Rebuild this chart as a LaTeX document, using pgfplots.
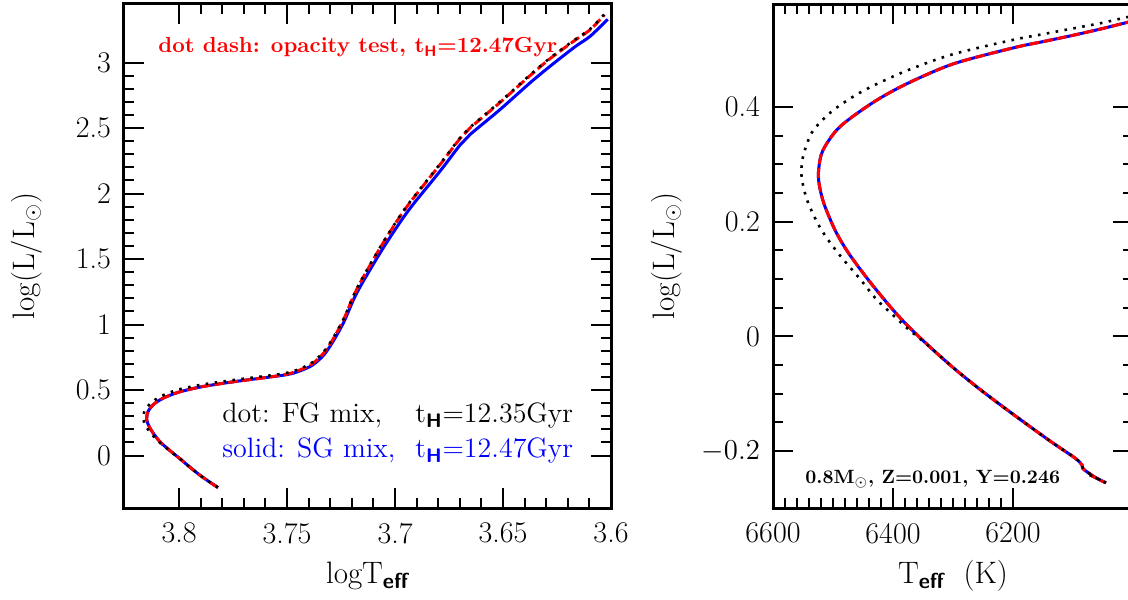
\documentclass[border=0pt]{standalone}
\usepackage{amsmath}
\usepackage{pgfplots}
\pgfplotsset{compat=1.18}
\definecolor{pred}{RGB}{255,0,0}
\definecolor{pblue}{RGB}{0,0,255}
\pgfplotstableread{
x y
3.7820 -0.244
3.7860 -0.200
3.7903 -0.150
3.7950 -0.088
3.7995 -0.025
3.8040 0.035
3.8085 0.100
3.8115 0.160
3.8138 0.220
3.8150 0.275
3.8145 0.330
3.8122 0.385
3.8075 0.437
3.8000 0.485
3.7890 0.527
3.7733 0.567
3.7579 0.600
3.7480 0.625
3.7393 0.680
3.7340 0.750
3.7301 0.834
3.7239 1.013
3.7177 1.242
3.7069 1.547
3.6977 1.780
3.6915 1.920
3.6792 2.170
3.6699 2.370
3.6653 2.450
3.6514 2.641
3.6375 2.845
3.6282 2.972
3.6167 3.120
3.6097 3.200
3.6015 3.330
}\blueL
\pgfplotstableread{
x y
3.7820 -0.244
3.7860 -0.200
3.7903 -0.150
3.7950 -0.088
3.7995 -0.025
3.8040 0.035
3.8085 0.100
3.8115 0.160
3.8138 0.220
3.8150 0.275
3.8145 0.330
3.8122 0.385
3.8075 0.437
3.8000 0.485
3.7890 0.527
3.7733 0.567
3.7579 0.600
3.7480 0.630
3.7393 0.690
3.7340 0.765
3.7301 0.850
3.7239 1.035
3.7177 1.270
3.7069 1.585
3.6977 1.825
3.6915 1.965
3.6792 2.220
3.6699 2.420
3.6653 2.500
3.6514 2.695
3.6375 2.900
3.6282 3.030
3.6167 3.170
3.6097 3.250
3.6030 3.365
}\redL
\pgfplotstableread{
x y
3.7820 -0.244
3.7860 -0.200
3.7903 -0.150
3.7950 -0.088
3.7995 -0.025
3.8042 0.035
3.8090 0.100
3.8125 0.160
3.8152 0.220
3.8166 0.280
3.8160 0.340
3.8135 0.395
3.8085 0.452
3.8005 0.503
3.7890 0.543
3.7733 0.580
3.7579 0.612
3.7480 0.640
3.7393 0.700
3.7340 0.775
3.7301 0.860
3.7239 1.040
3.7177 1.275
3.7069 1.590
3.6977 1.830
3.6915 1.970
3.6792 2.225
3.6699 2.425
3.6653 2.505
3.6514 2.700
3.6375 2.905
3.6282 3.035
3.6167 3.175
3.6097 3.255
3.6030 3.370
}\blackL
\pgfplotstableread{
x y
6071.7 -0.2417
6045 -0.2556
6063 -0.2460
6083 -0.2312
6085 -0.2242
6097 -0.2120
6139 -0.182
6201 -0.135
6252 -0.095
6297 -0.057
6338 -0.019
6376 0.019
6404 0.051
6440 0.097
6474 0.145
6496 0.184
6515 0.231
6523 0.265
6524 0.290
6517 0.324
6489 0.365
6433 0.408
6378 0.440
6300 0.475
6200 0.503
6150 0.514
6100 0.525
6050 0.537
6008 0.548
5980 0.555
}\mainR
\pgfplotstableread{
x y
6071.7 -0.2417
6045 -0.2556
6063 -0.2460
6083 -0.2312
6085 -0.2242
6097 -0.2120
6139 -0.182
6201 -0.135
6252 -0.095
6297 -0.057
6338 -0.019
6375 0.013
6405 0.042
6428 0.065
6455 0.100
6486 0.138
6508 0.168
6525 0.196
6543 0.237
6552 0.275
6552 0.300
6547 0.325
6533 0.359
6500 0.394
6450 0.428
6378 0.463
6300 0.492
6200 0.517
6150 0.527
6100 0.537
6050 0.547
6008 0.557
5980 0.561
}\dotR
\begin{document}
\begin{tikzpicture}
\pgfplotsset{
  hrstyle/.style={
    scale only axis,
    anchor=south west,
    axis line style={line width=1.5pt},
    every tick/.style={black, line width=1pt},
    major tick length=10pt,
    minor tick length=5pt,
    x dir=reverse,
    tick label style={font=\fontsize{15}{18}\selectfont},
    xticklabel style={yshift=-4pt},
    yticklabel style={xshift=-3pt},
    bluel/.style={pblue, line width=1.5pt, smooth},
    redl/.style={pred, line width=1.5pt, dash pattern=on 5pt off 2pt, smooth},
    blackl/.style={black, line width=1.3pt, dash pattern=on 1.3pt off 3.2pt, smooth},
  },
}
\begin{axis}[hrstyle, at={(62pt,45.5pt)}, width=243.5pt, height=252pt,
  xmin=3.6, xmax=3.8255, ymin=-0.4, ymax=3.447,
  xtick={3.6,3.65,3.7,3.75,3.8}, xticklabels={3.6,3.65,3.7,3.75,3.8},
  minor x tick num=4,
  ytick={0,0.5,1,1.5,2,2.5,3}, yticklabels={0,0.5,1,1.5,2,2.5,3},
  minor y tick num=4,
  xlabel={logT$_{\text{\sffamily\bfseries eff}}$},
  ylabel={log(L/L$_\odot$)},
  every axis x label/.style={at={(axis description cs:0.5,-0.149)}, anchor=base, font=\fontsize{15.5}{18}\selectfont},
  every axis y label/.style={at={(axis description cs:-0.199,0.5)}, rotate=90, anchor=center, font=\fontsize{15.5}{18}\selectfont},
]
\addplot[bluel] table[x=x,y=y] {\blueL};
\addplot[redl] table[x=x,y=y] {\redL};
\addplot[blackl] table[x=x,y=y] {\blackL};
\end{axis}
\begin{axis}[hrstyle, at={(386.5pt,45.5pt)}, width=180pt, height=252pt,
  xmin=6000, xmax=6600, ymin=-0.2994, ymax=0.5796,
  xtick={6200,6400,6600}, xticklabels={6200,6400,6600},
  minor x tick num=9,
  ytick={-0.2,0,0.2,0.4}, yticklabels={$-0.2$,0,0.2,0.4},
  minor y tick num=3,
  xlabel={T$_{\text{\sffamily\bfseries eff}}$\ \ (K)},
  ylabel={log(L/L$_\odot$)},
  every axis x label/.style={at={(axis description cs:0.5,-0.149)}, anchor=base, font=\fontsize{15.5}{18}\selectfont},
  every axis y label/.style={at={(axis description cs:-0.294,0.5)}, rotate=90, anchor=center, font=\fontsize{15.5}{18}\selectfont},
]
\addplot[bluel] table[x=x,y=y] {\mainR};
\addplot[redl] table[x=x,y=y] {\mainR};
\addplot[blackl] table[x=x,y=y] {\dotR};
\end{axis}
\node[anchor=base west, inner sep=0pt, text=pred, font=\fontsize{10.9}{13}\selectfont\bfseries] at (79pt,273pt)
  {dot dash: opacity test, t$_{\text{\sffamily\bfseries H}}$=12.47Gyr};
\node[anchor=base west, inner sep=0pt, font=\fontsize{14}{16}\selectfont] at (111pt,88pt) {dot: FG mix,};
\node[anchor=base west, inner sep=0pt, font=\fontsize{14}{16}\selectfont] at (207.5pt,88pt) {t$_{\text{\sffamily\bfseries H}}$=12.35Gyr};
\node[anchor=base west, inner sep=0pt, text=pblue, font=\fontsize{14}{16}\selectfont] at (111pt,70.5pt) {solid: SG mix,};
\node[anchor=base west, inner sep=0pt, text=pblue, font=\fontsize{14}{16}\selectfont] at (207.5pt,70.5pt) {t$_{\text{\sffamily\bfseries H}}$=12.47Gyr};
\node[anchor=base west, inner sep=0pt, font=\fontsize{9.6}{12}\selectfont\bfseries] at (402.5pt,57.5pt) {0.8M$_\odot$, Z=0.001, Y=0.246};
\pgfresetboundingbox
\useasboundingbox (0,0) rectangle (564pt,299.5pt);
\end{tikzpicture}
\end{document}
